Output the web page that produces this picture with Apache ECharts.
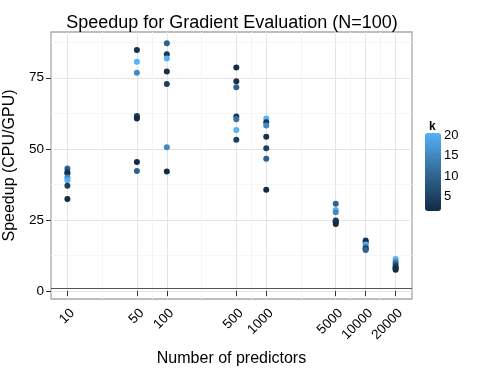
<!DOCTYPE html>
<html>
<head>
<meta charset="utf-8">
<script src="https://cdn.jsdelivr.net/npm/echarts@6/dist/echarts.min.js"></script>
<style>html,body{margin:0;padding:0;background:#fff}#c{width:485px;height:374px}</style>
</head>
<body>
<div id="c"></div>
<script>
// ---- data ----
const predictors = [
  10,10,10,10,10,10,10,
  50,50,50,50,50,50,50,50,
  100,100,100,100,100,100,100,
  500,500,500,500,500,500,500,
  1000,1000,1000,1000,1000,1000,1000,
  5000,5000,5000,5000,5000,5000,5000,
  10000,10000,10000,10000,10000,10000,10000,
  20000,20000,20000,20000,20000,20000,20000
];
const speedup = [
  43.1,41.9,41.3,39.9,39.0,37.0,32.4,
  84.8,80.6,76.8,61.6,61.2,60.7,45.4,42.2,
  87.1,83.3,81.8,77.2,72.8,50.6,42.0,
  78.6,73.8,71.7,61.4,60.4,56.6,53.2,
  60.7,59.4,58.2,54.3,50.2,46.5,35.6,
  30.7,28.5,27.7,24.8,24.5,24.2,23.6,
  17.8,17.2,16.4,15.6,15.0,14.8,14.4,
  11.3,10.3,9.6,8.8,8.3,7.9,7.5
];
const kValues = [
  10,4,3,15,20,5,2,
  3,20,15,4,5,2,2,10,
  10,4,20,3,5,15,2,
  2,3,10,4,12,20,5,
  20,4,15,3,5,10,2,
  10,20,15,3,5,4,2,
  4,2,20,15,3,5,10,
  20,15,10,5,4,3,2
];
const xTicks = [10, 50, 100, 500, 1000, 5000, 10000, 20000];
const yTicks = [0, 25, 50, 75];
const kTicks = [5, 10, 15, 20];
const hlineValue = 1;
const kRange = [2, 20];

// minor grid positions: midpoints (in log space) between the major breaks
const xMinor = xTicks.slice(1).map((v, i) => Math.sqrt(v * xTicks[i]));
const yMinor = yTicks.map(v => v + 12.5);

const points = speedup.map((s, i) => [predictors[i], s, kValues[i]]);

const X_MIN = 6.84, X_MAX = 29240, Y_MIN = -2.8, Y_MAX = 91.1;
const FONT = 'Liberation Sans, Arial, Helvetica, sans-serif';
const kBin = (kRange[1] - kRange[0]) / 19;

const chart = echarts.init(document.getElementById('c'), null, {renderer: 'canvas'});
chart.setOption({
  animation: false,
  backgroundColor: '#ffffff',
  textStyle: {fontFamily: FONT},
  title: [
    {text: 'Speedup for Gradient Evaluation (N=100)', left: 227, top: 9, textAlign: 'center',
     textStyle: {fontFamily: FONT, fontSize: 18, fontWeight: 'normal', color: '#000'}},
    {text: 'k', left: 424, top: 116,
     textStyle: {fontFamily: FONT, fontSize: 12, fontWeight: 'bold', color: '#000'}}
  ],
  grid: [
    {left: 51, right: 73, top: 32, bottom: 75, show: true, borderColor: '#a8a8a8', borderWidth: 1.3,
     backgroundColor: '#fff', containLabel: false, outerBoundsMode: 'none'},
    {left: 425, top: 133, width: 16, height: 78, show: false, containLabel: false, outerBoundsMode: 'none'}
  ],
  xAxis: [
    {type: 'log', logBase: 10, min: X_MIN, max: X_MAX, gridIndex: 0,
     name: 'Number of predictors', nameLocation: 'middle', nameGap: 52,
     nameTextStyle: {fontFamily: FONT, fontSize: 16, color: '#000'},
     axisLine: {show: false},
     axisTick: {show: true, customValues: xTicks, length: 5, lineStyle: {color: '#333', width: 1}},
     axisLabel: {customValues: xTicks, rotate: 45, margin: 7, fontSize: 13.5, color: '#000', fontFamily: FONT,
                 verticalAlign: 'top', formatter: v => String(Math.round(v))},
     splitLine: {show: true, lineStyle: {color: '#e5e5e5', width: 1}},
     minorTick: {show: false}, minorSplitLine: {show: false}},
    {type: 'log', logBase: 10, min: X_MIN, max: X_MAX, gridIndex: 0, position: 'bottom',
     axisLine: {show: false}, axisLabel: {show: false},
     axisTick: {show: false, customValues: xMinor},
     splitLine: {show: true, lineStyle: {color: '#f5f5f5', width: 1}}},
    {type: 'value', gridIndex: 1, show: false, min: 0, max: 1}
  ],
  yAxis: [
    {type: 'value', min: Y_MIN, max: Y_MAX, gridIndex: 0,
     name: 'Speedup (CPU/GPU)', nameLocation: 'middle', nameGap: 32,
     nameTextStyle: {fontFamily: FONT, fontSize: 16, color: '#000'},
     axisLine: {show: false},
     axisTick: {show: true, customValues: yTicks, length: 5, lineStyle: {color: '#333', width: 1}},
     axisLabel: {customValues: yTicks, margin: 7, fontSize: 13.5, color: '#000', fontFamily: FONT},
     splitLine: {show: true, lineStyle: {color: '#e5e5e5', width: 1}}},
    {type: 'value', min: Y_MIN, max: Y_MAX, gridIndex: 0, position: 'left',
     axisLine: {show: false}, axisLabel: {show: false},
     axisTick: {show: false, customValues: yMinor},
     splitLine: {show: true, lineStyle: {color: '#f5f5f5', width: 1}}},
    {type: 'value', gridIndex: 1, position: 'right',
     min: kRange[0] - kBin / 2, max: kRange[1] + kBin / 2,
     axisLine: {show: false}, splitLine: {show: false},
     axisTick: {show: true, inside: true, length: 3, customValues: kTicks, lineStyle: {color: '#fff', width: 1}},
     axisLabel: {customValues: kTicks, margin: 3, fontSize: 13, color: '#000', fontFamily: FONT}},
    {type: 'value', gridIndex: 1, position: 'left',
     min: kRange[0] - kBin / 2, max: kRange[1] + kBin / 2,
     axisLine: {show: false}, splitLine: {show: false}, axisLabel: {show: false},
     axisTick: {show: true, inside: true, length: 3, customValues: kTicks, lineStyle: {color: '#fff', width: 1}}}
  ],
  visualMap: {
    type: 'continuous', min: kRange[0], max: kRange[1], dimension: 2, seriesIndex: 0,
    orient: 'vertical', left: 425, top: 133, itemWidth: 16, itemHeight: 78,
    padding: 0, calculable: false, hoverLink: false, realtime: false,
    inRange: {color: ['#132B43', '#336A98', '#56B1F7']},
    textStyle: {color: 'transparent'}, z: 1
  },
  series: [
    {type: 'scatter', xAxisIndex: 0, yAxisIndex: 0, data: points, symbol: 'circle', symbolSize: 6,
     itemStyle: {opacity: 1}, z: 3,
     markLine: {silent: true, symbol: 'none', label: {show: false}, animation: false,
       lineStyle: {color: '#555', width: 1.2, type: 'solid'},
       data: [{yAxis: hlineValue}]}}
  ]
});
</script>
</body>
</html>
